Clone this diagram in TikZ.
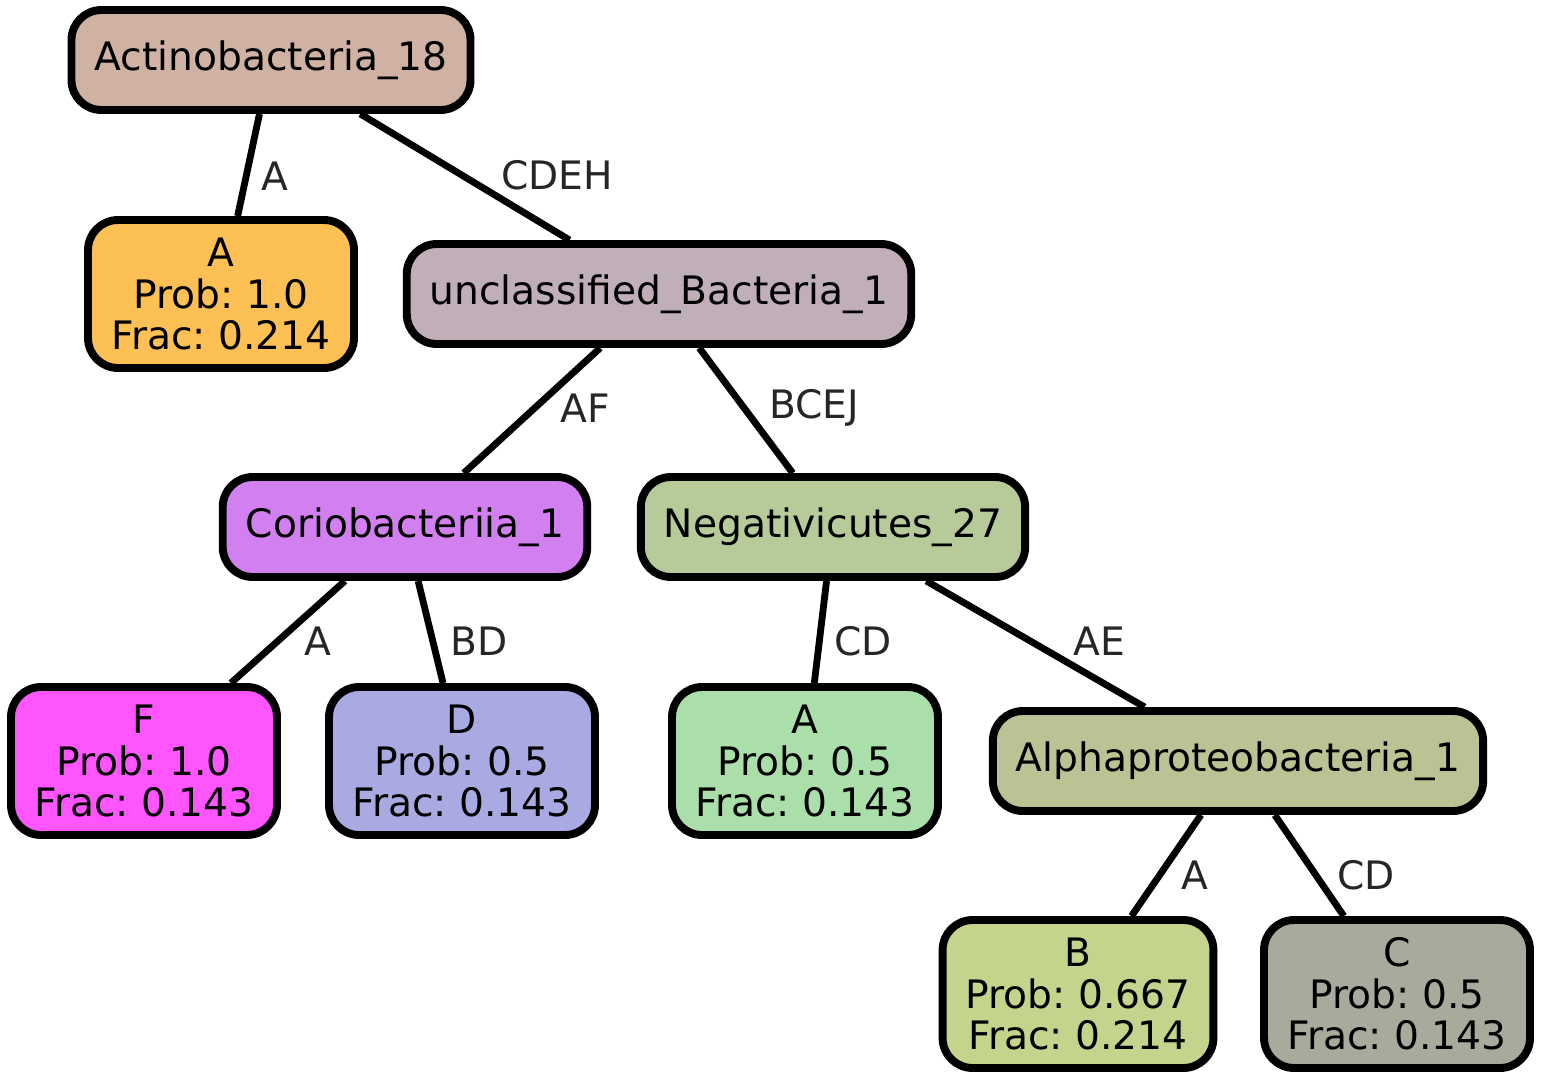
\documentclass[tikz,border=0pt]{standalone}
\usepackage{fontspec}
\setmainfont{DejaVu Sans}
\frenchspacing
\usetikzlibrary{positioning}
\definecolor{actcol}{HTML}{CFB2A4}
\definecolor{acol}{HTML}{FDC055}
\definecolor{unccol}{HTML}{C0AEB9}
\definecolor{coricol}{HTML}{D27FF0}
\definecolor{negcol}{HTML}{B6CB99}
\definecolor{fcol}{HTML}{FE55FE}
\definecolor{dcol}{HTML}{AAAAE3}
\definecolor{anegcol}{HTML}{AADFA9}
\definecolor{alphacol}{HTML}{BAC393}
\definecolor{bcol}{HTML}{C4D48C}
\definecolor{ccol}{HTML}{A9AA9B}
\definecolor{lblgray}{HTML}{262626}

\begin{document}
\begin{tikzpicture}[
    x=0.02cm, y=-0.02cm,
    taxon/.style={draw, line width=4.5pt, rounded corners=0.6cm, minimum height=2cm,
        inner xsep=0.46cm, font=\fontsize{22.3}{23.6}\selectfont},
    leaf/.style={taxon, minimum height=2.96cm, minimum width=5.32cm, align=center},
    lbl/.style={text=lblgray, font=\fontsize{22.3}{23.6}\selectfont},
    conn/.style={draw, line width=3.9pt}
]
\useasboundingbox (0,0) rectangle (1542,1079);

% inner nodes
\node[taxon, fill=actcol] (actino) at (271,60) {Actinobacteria\_18};
\node[taxon, fill=unccol] (uncl) at (659,294) {unclassified\_Bacteria\_1};
\node[taxon, fill=coricol] (corio) at (405,527) {Coriobacteriia\_1};
\node[taxon, fill=negcol] (negat) at (833,527) {Negativicutes\_27};
\node[taxon, fill=alphacol] (alpha) at (1238,761) {Alphaproteobacteria\_1};

% leaves
\node[leaf, fill=acol] (leafA) at (221,294) {A\\Prob: 1.0\\Frac: 0.214};
\node[leaf, fill=fcol] (leafF) at (144,761) {F\\Prob: 1.0\\Frac: 0.143};
\node[leaf, fill=dcol] (leafD) at (462,761) {D\\Prob: 0.5\\Frac: 0.143};
\node[leaf, fill=anegcol] (leafAn) at (805,761) {A\\Prob: 0.5\\Frac: 0.143};
\node[leaf, fill=bcol] (leafB) at (1078,994) {B\\Prob: 0.667\\Frac: 0.214};
\node[leaf, fill=ccol] (leafC) at (1397,994) {C\\Prob: 0.5\\Frac: 0.143};

% edges
\draw[conn] (actino) -- (leafA) node[lbl] (eA) at (275,176) {A};
\draw[conn] (actino) -- (uncl) node[lbl] (eCDEH) at (557,175) {CDEH};
\draw[conn] (uncl) -- (corio) node[lbl] (eAF) at (585,408) {AF};
\draw[conn] (uncl) -- (negat) node[lbl] (eBCEJ) at (814,408) {BCEJ};
\draw[conn] (corio) -- (leafF) node[lbl] (eAc) at (318,641) {A};
\draw[conn] (corio) -- (leafD) node[lbl] (eBD) at (479,641) {BD};
\draw[conn] (negat) -- (leafAn) node[lbl] (eCD) at (863,641) {CD};
\draw[conn] (negat) -- (alpha) node[lbl] (eAE) at (1099,641) {AE};
\draw[conn] (alpha) -- (leafB) node[lbl] (eAa) at (1195,875) {A};
\draw[conn] (alpha) -- (leafC) node[lbl] (eCDa) at (1366,875) {CD};

\end{tikzpicture}
\end{document}
